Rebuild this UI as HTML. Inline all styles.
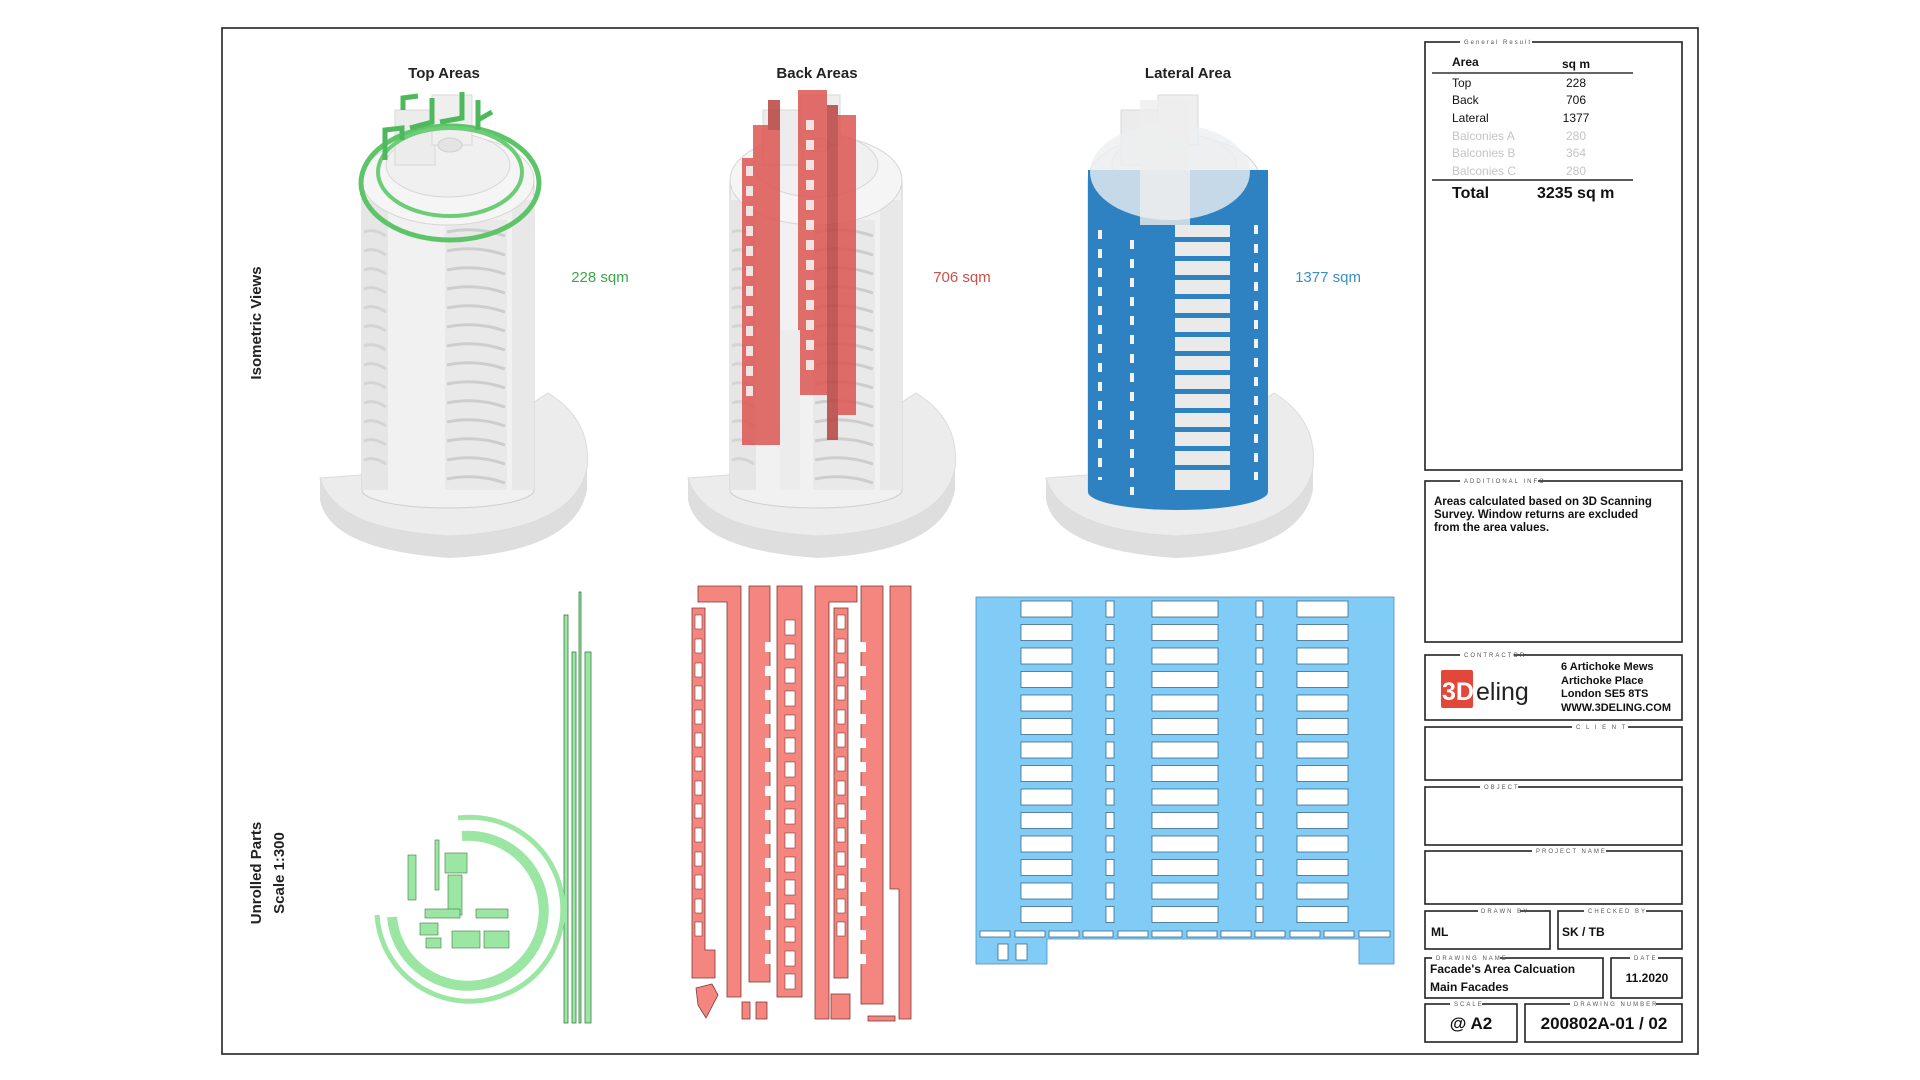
<!DOCTYPE html>
<html><head><meta charset="utf-8">
<style>
html,body{margin:0;padding:0;background:#fff;}
svg{display:block;}
text{font-family:"Liberation Sans","DejaVu Sans",sans-serif;}
.lg{font-size:6px;letter-spacing:2px;fill:#555;}
.tb{font-size:12px;fill:#111;}
.b{font-weight:bold;}
</style></head><body>
<svg width="1920" height="1080" viewBox="0 0 1920 1080" xmlns="http://www.w3.org/2000/svg">
<defs>
<g id="bld">
  <path d="M320,500 Q330,550 450,558 Q575,552 587,490 L587,468 Q575,530 450,536 Q335,530 320,478 Z" fill="#dedede"/>
  <path d="M320,478 L430,470 L548,393 Q592,420 587,468 Q575,530 450,536 Q335,530 320,478 Z" fill="#ececec" stroke="#dcdcdc"/>
  <path d="M362,180 L362,490 A86,18 0 0 0 534,490 L534,180 Z" fill="#f1f1f1" stroke="#cfcfcf"/>
  <rect x="362" y="200" width="26" height="290" fill="#e6e6e6"/>
  <rect x="512" y="200" width="22" height="290" fill="#e8e8e8"/>
  <rect x="445" y="220" width="62" height="270" fill="#e9e9e9"/>
  <g stroke="#cdcdcd" stroke-width="3" fill="none">
    <path d="M447,232 Q476,226 505,236"/><path d="M447,251 Q476,245 505,255"/><path d="M447,270 Q476,264 505,274"/>
    <path d="M447,289 Q476,283 505,293"/><path d="M447,308 Q476,302 505,312"/><path d="M447,327 Q476,321 505,331"/>
    <path d="M447,346 Q476,340 505,350"/><path d="M447,365 Q476,359 505,369"/><path d="M447,384 Q476,378 505,388"/>
    <path d="M447,403 Q476,397 505,407"/><path d="M447,422 Q476,416 505,426"/><path d="M447,441 Q476,435 505,445"/>
    <path d="M447,460 Q476,454 505,464"/><path d="M447,479 Q476,473 505,483"/>
  </g>
  <g stroke="#d4d4d4" stroke-width="3" fill="none">
    <path d="M364,232 Q374,228 386,236"/><path d="M364,251 Q374,247 386,255"/><path d="M364,270 Q374,266 386,274"/>
    <path d="M364,289 Q374,285 386,293"/><path d="M364,308 Q374,304 386,312"/><path d="M364,327 Q374,323 386,331"/>
    <path d="M364,346 Q374,342 386,350"/><path d="M364,365 Q374,361 386,369"/><path d="M364,384 Q374,380 386,388"/>
    <path d="M364,403 Q374,399 386,407"/><path d="M364,422 Q374,418 386,426"/><path d="M364,441 Q374,437 386,445"/>
    <path d="M364,460 Q374,456 386,464"/>
  </g>
  <ellipse cx="448" cy="180" rx="86" ry="45" fill="#f5f5f5" stroke="#d6d6d6"/>
  <ellipse cx="448" cy="165" rx="62" ry="32" fill="#f0f0f0" stroke="#d8d8d8"/>
  <rect x="395" y="110" width="40" height="55" fill="#ececec" stroke="#d8d8d8"/>
  <rect x="432" y="95" width="40" height="50" fill="#efefef" stroke="#d8d8d8"/>
  <ellipse cx="450" cy="145" rx="12" ry="7" fill="#e4e4e4" stroke="#d0d0d0"/>
</g>
</defs>

<rect x="222" y="28" width="1476" height="1026" fill="none" stroke="#222" stroke-width="1.6"/>

<text x="444" y="78" font-size="15" font-weight="bold" text-anchor="middle" fill="#222">Top Areas</text>
<text x="817" y="78" font-size="15" font-weight="bold" text-anchor="middle" fill="#222">Back Areas</text>
<text x="1188" y="78" font-size="15" font-weight="bold" text-anchor="middle" fill="#222">Lateral Area</text>
<text x="600" y="282" font-size="15" text-anchor="middle" fill="#3da54a">228 sqm</text>
<text x="962" y="282" font-size="15" text-anchor="middle" fill="#c9504b">706 sqm</text>
<text x="1328" y="282" font-size="15" text-anchor="middle" fill="#3a8fc4">1377 sqm</text>

<text transform="translate(261,323) rotate(-90)" font-size="15" font-weight="bold" text-anchor="middle" fill="#222">Isometric Views</text>
<text transform="translate(261,873) rotate(-90)" font-size="15" font-weight="bold" text-anchor="middle" fill="#222">Unrolled Parts</text>
<text transform="translate(284,873) rotate(-90)" font-size="15" font-weight="bold" text-anchor="middle" fill="#222">Scale 1:300</text>

<use href="#bld"/>
<use href="#bld" transform="translate(368,0)"/>
<use href="#bld" transform="translate(726,0)"/>

<!-- green overlay -->
<ellipse cx="450" cy="183" rx="89" ry="57" fill="none" stroke="#5ec46a" stroke-width="5"/>
<ellipse cx="450" cy="172" rx="72" ry="44" fill="none" stroke="#6ccd76" stroke-width="4"/>
<path d="M385,160 L385,130 L402,128 L402,140 M403,110 L403,98 L418,96 M410,128 L432,122 L432,98 M440,122 L462,118 L462,92 M478,100 L478,130 M478,120 L492,112" fill="none" stroke="#4fb85c" stroke-width="5"/>

<!-- red overlay -->
<g fill="#dd5652" opacity="0.85">
  <rect x="742" y="158" width="16" height="287"/>
  <rect x="753" y="125" width="27" height="320"/>
  <rect x="798" y="90" width="29" height="305"/>
  <rect x="827" y="105" width="11" height="335" fill="#b84340"/>
  <rect x="838" y="115" width="18" height="300"/>
  <rect x="768" y="100" width="12" height="30" fill="#b84340"/>
</g>
<g fill="#f3e3e3">
  <rect x="746" y="166" width="7" height="10"/><rect x="746" y="186" width="7" height="10"/><rect x="746" y="206" width="7" height="10"/>
  <rect x="746" y="226" width="7" height="10"/><rect x="746" y="246" width="7" height="10"/><rect x="746" y="266" width="7" height="10"/>
  <rect x="746" y="286" width="7" height="10"/><rect x="746" y="306" width="7" height="10"/><rect x="746" y="326" width="7" height="10"/>
  <rect x="746" y="346" width="7" height="10"/><rect x="746" y="366" width="7" height="10"/><rect x="746" y="386" width="7" height="10"/>
  <rect x="806" y="120" width="8" height="10"/><rect x="806" y="140" width="8" height="10"/><rect x="806" y="160" width="8" height="10"/>
  <rect x="806" y="180" width="8" height="10"/><rect x="806" y="200" width="8" height="10"/><rect x="806" y="220" width="8" height="10"/>
  <rect x="806" y="240" width="8" height="10"/><rect x="806" y="260" width="8" height="10"/><rect x="806" y="280" width="8" height="10"/>
  <rect x="806" y="300" width="8" height="10"/><rect x="806" y="320" width="8" height="10"/><rect x="806" y="340" width="8" height="10"/>
  <rect x="806" y="360" width="8" height="10"/>
</g>
<rect x="780" y="330" width="20" height="160" fill="#ececec"/>

<!-- blue overlay -->
<path d="M1088,170 L1088,492 A90,18 0 0 0 1268,492 L1268,170 Z" fill="#2f82c2"/>
<ellipse cx="1170" cy="172" rx="80" ry="48" fill="#eceff1" opacity="0.8"/>
<rect x="1140" y="100" width="50" height="125" fill="#ededed" opacity="0.8"/>
<rect x="1175" y="225" width="55" height="265" fill="#eaeaea"/>
<g fill="#2f82c2">
  <rect x="1175" y="237" width="55" height="5"/><rect x="1175" y="256" width="55" height="5"/><rect x="1175" y="275" width="55" height="5"/>
  <rect x="1175" y="294" width="55" height="5"/><rect x="1175" y="313" width="55" height="5"/><rect x="1175" y="332" width="55" height="5"/>
  <rect x="1175" y="351" width="55" height="5"/><rect x="1175" y="370" width="55" height="5"/><rect x="1175" y="389" width="55" height="5"/>
  <rect x="1175" y="408" width="55" height="5"/><rect x="1175" y="427" width="55" height="5"/><rect x="1175" y="446" width="55" height="5"/>
  <rect x="1175" y="465" width="55" height="5"/>
</g>
<g stroke="#f2f2f2" stroke-width="4" stroke-dasharray="9 10" fill="none">
  <line x1="1132" y1="240" x2="1132" y2="495"/>
  <line x1="1100" y1="230" x2="1100" y2="480"/>
  <line x1="1256" y1="225" x2="1256" y2="480"/>
</g>

<!-- unrolled green -->
<g fill="#9be6a3" stroke="#3d7a45" stroke-width="0.8">
  <rect x="564" y="615" width="4" height="408"/>
  <rect x="572" y="652" width="4" height="371"/>
  <rect x="579" y="592" width="2" height="431"/>
  <rect x="585" y="652" width="6" height="371"/>
</g>
<g fill="none" stroke="#9be6a3">
  <path d="M458,818 A93,92 0 1 1 377,915" stroke-width="5"/>
  <path d="M462,836 A76,75 0 1 1 392,917" stroke-width="10"/>
</g>
<g fill="#9be6a3" stroke="#3d7a45" stroke-width="0.6">
  <rect x="408" y="855" width="8" height="45"/><rect x="435" y="840" width="4" height="50"/>
  <rect x="445" y="853" width="22" height="20"/><rect x="448" y="875" width="14" height="40"/>
  <rect x="425" y="909" width="35" height="9"/><rect x="476" y="909" width="32" height="9"/>
  <rect x="420" y="923" width="18" height="12"/><rect x="426" y="938" width="15" height="10"/>
  <rect x="452" y="931" width="28" height="17"/><rect x="484" y="931" width="25" height="17"/>
</g>

<!-- unrolled red -->
<g fill="#f4857f" stroke="#7a3a38" stroke-width="0.8">
  <path d="M692,608 L705,608 L705,950 L715,950 L715,978 L692,978 Z"/>
  <path d="M698,586 L741,586 L741,997 L727,997 L727,602 L698,602 Z"/>
  <rect x="749" y="586" width="21" height="396"/>
  <rect x="777" y="586" width="25" height="411"/>
  <path d="M815,586 L857,586 L857,602 L829,602 L829,1019 L815,1019 Z"/>
  <rect x="834" y="608" width="14" height="370"/>
  <rect x="861" y="586" width="22" height="418"/>
  <path d="M890,586 L911,586 L911,1019 L899,1019 L899,889 L890,889 Z"/>
  <rect x="742" y="1002" width="8" height="17"/><rect x="756" y="1002" width="11" height="17"/>
  <rect x="831" y="994" width="19" height="25"/><rect x="868" y="1016" width="27" height="5"/>
  <path d="M696,988 L712,984 L718,995 L706,1018 L698,1005 Z"/>
</g>
<g fill="#fff" stroke="#7a3a38" stroke-width="0.6">
  <rect x="695" y="615" width="7" height="14"/><rect x="695" y="639" width="7" height="14"/><rect x="695" y="663" width="7" height="14"/>
  <rect x="695" y="686" width="7" height="14"/><rect x="695" y="710" width="7" height="14"/><rect x="695" y="733" width="7" height="14"/>
  <rect x="695" y="757" width="7" height="14"/><rect x="695" y="781" width="7" height="14"/><rect x="695" y="804" width="7" height="14"/>
  <rect x="695" y="828" width="7" height="14"/><rect x="695" y="852" width="7" height="14"/><rect x="695" y="875" width="7" height="14"/>
  <rect x="695" y="899" width="7" height="14"/><rect x="695" y="922" width="7" height="14"/>
  <rect x="837" y="615" width="8" height="14"/><rect x="837" y="639" width="8" height="14"/><rect x="837" y="663" width="8" height="14"/>
  <rect x="837" y="686" width="8" height="14"/><rect x="837" y="710" width="8" height="14"/><rect x="837" y="733" width="8" height="14"/>
  <rect x="837" y="757" width="8" height="14"/><rect x="837" y="781" width="8" height="14"/><rect x="837" y="804" width="8" height="14"/>
  <rect x="837" y="828" width="8" height="14"/><rect x="837" y="852" width="8" height="14"/><rect x="837" y="875" width="8" height="14"/>
  <rect x="837" y="899" width="8" height="14"/><rect x="837" y="922" width="8" height="14"/>
  <rect x="785" y="620" width="10" height="15"/><rect x="785" y="644" width="10" height="15"/><rect x="785" y="668" width="10" height="15"/>
  <rect x="785" y="691" width="10" height="15"/><rect x="785" y="715" width="10" height="15"/><rect x="785" y="738" width="10" height="15"/>
  <rect x="785" y="762" width="10" height="15"/><rect x="785" y="786" width="10" height="15"/><rect x="785" y="809" width="10" height="15"/>
  <rect x="785" y="833" width="10" height="15"/><rect x="785" y="857" width="10" height="15"/><rect x="785" y="880" width="10" height="15"/>
  <rect x="785" y="904" width="10" height="15"/><rect x="785" y="927" width="10" height="15"/><rect x="785" y="951" width="10" height="15"/>
  <rect x="785" y="974" width="10" height="15"/>
</g>
<g fill="#fff">
  <rect x="765" y="642" width="6" height="10"/><rect x="765" y="666" width="6" height="10"/><rect x="765" y="690" width="6" height="10"/>
  <rect x="765" y="714" width="6" height="10"/><rect x="765" y="738" width="6" height="10"/><rect x="765" y="762" width="6" height="10"/>
  <rect x="765" y="786" width="6" height="10"/><rect x="765" y="810" width="6" height="10"/><rect x="765" y="834" width="6" height="10"/>
  <rect x="765" y="858" width="6" height="10"/><rect x="765" y="882" width="6" height="10"/><rect x="765" y="906" width="6" height="10"/>
  <rect x="765" y="930" width="6" height="10"/><rect x="765" y="954" width="6" height="10"/>
  <rect x="860" y="642" width="6" height="10"/><rect x="860" y="666" width="6" height="10"/><rect x="860" y="690" width="6" height="10"/>
  <rect x="860" y="714" width="6" height="10"/><rect x="860" y="738" width="6" height="10"/><rect x="860" y="762" width="6" height="10"/>
  <rect x="860" y="786" width="6" height="10"/><rect x="860" y="810" width="6" height="10"/><rect x="860" y="834" width="6" height="10"/>
  <rect x="860" y="858" width="6" height="10"/><rect x="860" y="882" width="6" height="10"/><rect x="860" y="906" width="6" height="10"/>
  <rect x="860" y="930" width="6" height="10"/><rect x="860" y="954" width="6" height="10"/>
</g>

<!-- unrolled blue -->
<path d="M976,597 L1394,597 L1394,964 L1359,964 L1359,939 L1047,939 L1047,964 L976,964 Z" fill="#80ccf7" stroke="#4b8fb8" stroke-width="0.8"/>
<g fill="#fff" stroke="#3d6a85" stroke-width="0.8">
  <rect x="1021" y="601" width="51" height="16"/><rect x="1106" y="601" width="8" height="16"/><rect x="1152" y="601" width="66" height="16"/><rect x="1256" y="601" width="7" height="16"/><rect x="1297" y="601" width="51" height="16"/>
  <rect x="1021" y="624.5" width="51" height="16"/><rect x="1106" y="624.5" width="8" height="16"/><rect x="1152" y="624.5" width="66" height="16"/><rect x="1256" y="624.5" width="7" height="16"/><rect x="1297" y="624.5" width="51" height="16"/>
  <rect x="1021" y="648" width="51" height="16"/><rect x="1106" y="648" width="8" height="16"/><rect x="1152" y="648" width="66" height="16"/><rect x="1256" y="648" width="7" height="16"/><rect x="1297" y="648" width="51" height="16"/>
  <rect x="1021" y="671.5" width="51" height="16"/><rect x="1106" y="671.5" width="8" height="16"/><rect x="1152" y="671.5" width="66" height="16"/><rect x="1256" y="671.5" width="7" height="16"/><rect x="1297" y="671.5" width="51" height="16"/>
  <rect x="1021" y="695" width="51" height="16"/><rect x="1106" y="695" width="8" height="16"/><rect x="1152" y="695" width="66" height="16"/><rect x="1256" y="695" width="7" height="16"/><rect x="1297" y="695" width="51" height="16"/>
  <rect x="1021" y="718.5" width="51" height="16"/><rect x="1106" y="718.5" width="8" height="16"/><rect x="1152" y="718.5" width="66" height="16"/><rect x="1256" y="718.5" width="7" height="16"/><rect x="1297" y="718.5" width="51" height="16"/>
  <rect x="1021" y="742" width="51" height="16"/><rect x="1106" y="742" width="8" height="16"/><rect x="1152" y="742" width="66" height="16"/><rect x="1256" y="742" width="7" height="16"/><rect x="1297" y="742" width="51" height="16"/>
  <rect x="1021" y="765.5" width="51" height="16"/><rect x="1106" y="765.5" width="8" height="16"/><rect x="1152" y="765.5" width="66" height="16"/><rect x="1256" y="765.5" width="7" height="16"/><rect x="1297" y="765.5" width="51" height="16"/>
  <rect x="1021" y="789" width="51" height="16"/><rect x="1106" y="789" width="8" height="16"/><rect x="1152" y="789" width="66" height="16"/><rect x="1256" y="789" width="7" height="16"/><rect x="1297" y="789" width="51" height="16"/>
  <rect x="1021" y="812.5" width="51" height="16"/><rect x="1106" y="812.5" width="8" height="16"/><rect x="1152" y="812.5" width="66" height="16"/><rect x="1256" y="812.5" width="7" height="16"/><rect x="1297" y="812.5" width="51" height="16"/>
  <rect x="1021" y="836" width="51" height="16"/><rect x="1106" y="836" width="8" height="16"/><rect x="1152" y="836" width="66" height="16"/><rect x="1256" y="836" width="7" height="16"/><rect x="1297" y="836" width="51" height="16"/>
  <rect x="1021" y="859.5" width="51" height="16"/><rect x="1106" y="859.5" width="8" height="16"/><rect x="1152" y="859.5" width="66" height="16"/><rect x="1256" y="859.5" width="7" height="16"/><rect x="1297" y="859.5" width="51" height="16"/>
  <rect x="1021" y="883" width="51" height="16"/><rect x="1106" y="883" width="8" height="16"/><rect x="1152" y="883" width="66" height="16"/><rect x="1256" y="883" width="7" height="16"/><rect x="1297" y="883" width="51" height="16"/>
  <rect x="1021" y="906.5" width="51" height="16"/><rect x="1106" y="906.5" width="8" height="16"/><rect x="1152" y="906.5" width="66" height="16"/><rect x="1256" y="906.5" width="7" height="16"/><rect x="1297" y="906.5" width="51" height="16"/>
  <rect x="980" y="931" width="30" height="6"/><rect x="1015" y="931" width="30" height="6"/><rect x="1049" y="931" width="30" height="6"/><rect x="1083" y="931" width="30" height="6"/>
  <rect x="1118" y="931" width="30" height="6"/><rect x="1152" y="931" width="30" height="6"/><rect x="1187" y="931" width="30" height="6"/><rect x="1221" y="931" width="30" height="6"/>
  <rect x="1255" y="931" width="30" height="6"/><rect x="1290" y="931" width="30" height="6"/><rect x="1324" y="931" width="30" height="6"/><rect x="1359" y="931" width="31" height="6"/>
  <rect x="998" y="944" width="10" height="16"/><rect x="1016" y="944" width="11" height="16"/>
</g>

<!-- title block -->
<g fill="none" stroke="#222" stroke-width="1.6">
  <rect x="1425" y="42" width="257" height="428"/>
  <rect x="1425" y="481" width="257" height="161"/>
  <rect x="1425" y="655" width="257" height="65"/>
  <rect x="1425" y="727" width="257" height="53"/>
  <rect x="1425" y="787" width="257" height="58"/>
  <rect x="1425" y="851" width="257" height="53"/>
  <rect x="1425" y="911" width="125" height="38"/>
  <rect x="1558" y="911" width="124" height="38"/>
  <rect x="1425" y="958" width="178" height="40"/>
  <rect x="1611" y="958" width="71" height="40"/>
  <rect x="1425" y="1004" width="92" height="38"/>
  <rect x="1525" y="1004" width="157" height="38"/>
</g>
<g fill="#fff">
  <rect x="1460" y="38" width="72" height="8"/><rect x="1460" y="477" width="78" height="8"/>
  <rect x="1460" y="651" width="54" height="8"/><rect x="1572" y="723" width="56" height="8"/>
  <rect x="1480" y="783" width="38" height="8"/><rect x="1532" y="847" width="74" height="8"/>
  <rect x="1478" y="907" width="42" height="8"/><rect x="1584" y="907" width="62" height="8"/>
  <rect x="1432" y="954" width="68" height="8"/><rect x="1630" y="954" width="28" height="8"/>
  <rect x="1450" y="1000" width="32" height="8"/><rect x="1570" y="1000" width="86" height="8"/>
</g>
<g class="lg">
  <text x="1464" y="44">General Result</text>
  <text x="1464" y="483">ADDITIONAL INFO</text>
  <text x="1464" y="657">CONTRACTOR</text>
  <text x="1576" y="729">C L I E N T</text>
  <text x="1484" y="789">OBJECT</text>
  <text x="1536" y="853">PROJECT NAME</text>
  <text x="1481" y="913">DRAWN BY</text>
  <text x="1588" y="913">CHECKED BY</text>
  <text x="1436" y="960">DRAWING NAME</text>
  <text x="1634" y="960">DATE</text>
  <text x="1454" y="1006">SCALE</text>
  <text x="1574" y="1006">DRAWING NUMBER</text>
</g>

<text x="1452" y="66" class="tb b">Area</text>
<text x="1562" y="68" class="tb b" font-size="11">sq m</text>
<line x1="1432" y1="73" x2="1633" y2="73" stroke="#333" stroke-width="1.4"/>
<g class="tb" font-size="11.5">
  <text x="1452" y="87">Top</text><text x="1576" y="87" text-anchor="middle">228</text>
  <text x="1452" y="104">Back</text><text x="1576" y="104" text-anchor="middle">706</text>
  <text x="1452" y="122">Lateral</text><text x="1576" y="122" text-anchor="middle">1377</text>
  <text x="1452" y="140" fill="#c4c4c4">Balconies A</text><text x="1576" y="140" text-anchor="middle" fill="#c4c4c4">280</text>
  <text x="1452" y="157" fill="#c4c4c4">Balconies B</text><text x="1576" y="157" text-anchor="middle" fill="#c4c4c4">364</text>
  <text x="1452" y="175" fill="#c4c4c4">Balconies C</text><text x="1576" y="175" text-anchor="middle" fill="#c4c4c4">280</text>
</g>
<line x1="1432" y1="180" x2="1633" y2="180" stroke="#222" stroke-width="1.6"/>
<text x="1452" y="198" font-size="16" font-weight="bold" fill="#111">Total</text>
<text x="1537" y="198" font-size="16" font-weight="bold" fill="#111">3235 sq m</text>

<g font-size="11.5" font-weight="bold" fill="#111">
  <text x="1434" y="505">Areas calculated based on 3D Scanning</text>
  <text x="1434" y="518">Survey. Window returns are excluded</text>
  <text x="1434" y="531">from the area values.</text>
</g>

<rect x="1441" y="670" width="32" height="38" rx="2" fill="#e2473a"/>
<text x="1442" y="700" font-size="25" font-weight="bold" fill="#fff">3D</text>
<text x="1476" y="700" font-size="25" fill="#222">eling</text>
<g font-size="11" font-weight="bold" fill="#111">
  <text x="1561" y="670">6 Artichoke Mews</text>
  <text x="1561" y="684">Artichoke Place</text>
  <text x="1561" y="697">London SE5 8TS</text>
  <text x="1561" y="711">WWW.3DELING.COM</text>
</g>

<g font-size="12" font-weight="bold" fill="#111">
  <text x="1431" y="936">ML</text>
  <text x="1562" y="936">SK / TB</text>
  <text x="1430" y="973">Facade's Area Calcuation</text>
  <text x="1430" y="991">Main Facades</text>
  <text x="1647" y="982" text-anchor="middle">11.2020</text>
</g>
<text x="1471" y="1029" font-size="17" font-weight="bold" text-anchor="middle" fill="#111">@ A2</text>
<text x="1604" y="1029" font-size="17" font-weight="bold" text-anchor="middle" fill="#111">200802A-01 / 02</text>
</svg>
</body></html>
